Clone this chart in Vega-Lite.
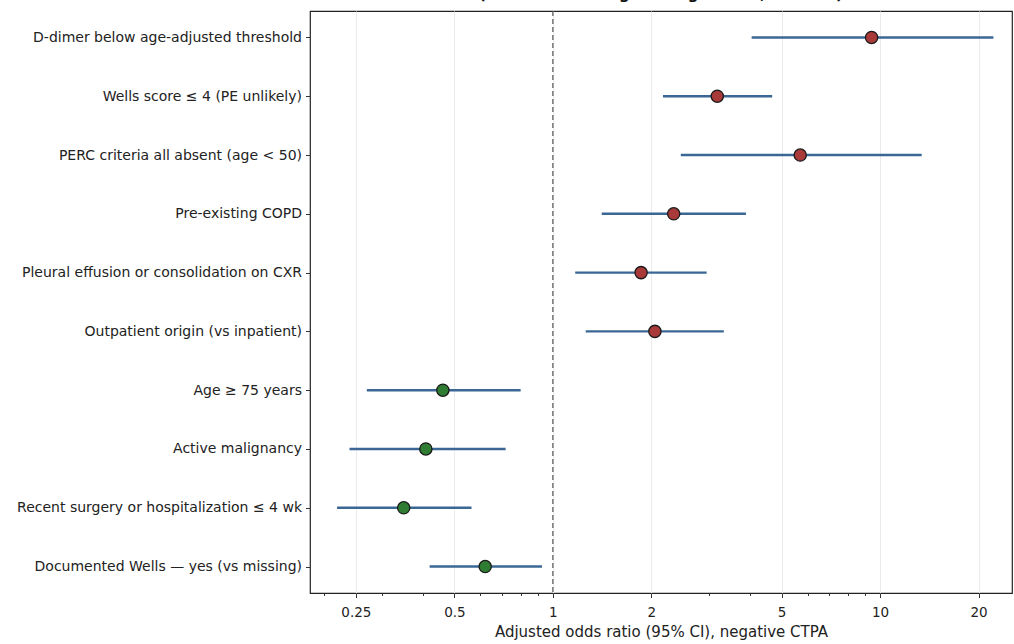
{
  "$schema": "https://vega.github.io/schema/vega-lite/v6.json",
  "autosize": "none",
  "padding": {"left": 310, "top": 11, "right": 2, "bottom": 51},
  "width": 702,
  "height": 582,
  "background": "white",
  "config": {
    "view": {"stroke": "#222222", "strokeWidth": 1.2},
    "font": "DejaVu Sans"
  },
  "title": {
    "text": ["Predictors of a negative CTPA", "(multivariable logistic regression, n = 343)"],
    "fontSize": 15,
    "fontWeight": "bold",
    "font": "DejaVu Sans",
    "color": "#111111",
    "anchor": "middle",
    "offset": 2,
    "dy": 9,
    "baseline": "bottom"
  },
  "data": {
    "values": [
      {"label": "D-dimer below age-adjusted threshold", "or": 9.42, "low": 4.05, "high": 22.2, "dir": "pos"},
      {"label": "Wells score ≤ 4 (PE unlikely)", "or": 3.18, "low": 2.17, "high": 4.68, "dir": "pos"},
      {"label": "PERC criteria all absent (age < 50)", "or": 5.70, "low": 2.46, "high": 13.4, "dir": "pos"},
      {"label": "Pre-existing COPD", "or": 2.34, "low": 1.41, "high": 3.89, "dir": "pos"},
      {"label": "Pleural effusion or consolidation on CXR", "or": 1.86, "low": 1.17, "high": 2.95, "dir": "pos"},
      {"label": "Outpatient origin (vs inpatient)", "or": 2.05, "low": 1.26, "high": 3.33, "dir": "pos"},
      {"label": "Age ≥ 75 years", "or": 0.461, "low": 0.270, "high": 0.797, "dir": "neg"},
      {"label": "Active malignancy", "or": 0.409, "low": 0.239, "high": 0.717, "dir": "neg"},
      {"label": "Recent surgery or hospitalization ≤ 4 wk", "or": 0.350, "low": 0.219, "high": 0.564, "dir": "neg"},
      {"label": "Documented Wells — yes (vs missing)", "or": 0.621, "low": 0.420, "high": 0.926, "dir": "neg"}
    ]
  },
  "layer": [
    {
      "data": {"values": [{"ref": 1}]},
      "mark": {"type": "rule", "strokeDash": [5, 3], "color": "#444444", "strokeWidth": 1.1},
      "encoding": {
        "x": {"field": "ref", "type": "quantitative"}
      }
    },
    {
      "mark": {"type": "rule", "color": "#3a6794", "strokeWidth": 2.4},
      "encoding": {
        "x": {
          "field": "low", "type": "quantitative",
          "scale": {"type": "log", "domain": [0.181, 25.3], "nice": false, "zero": false},
          "axis": {
            "orient": "bottom",
            "values": [0.2, 0.25, 0.3, 0.4, 0.5, 0.6, 0.7, 0.8, 0.9, 1, 2, 3, 4, 5, 6, 7, 8, 9, 10, 20],
            "labelExpr": "indexof([0.25,0.5,1,2,5,10,20], datum.value) >= 0 ? format(datum.value, '~g') : ''",
            "labelOverlap": false,
            "grid": true, "gridColor": "#ebebeb", "gridWidth": 1,
            "gridOpacity": {"expr": "indexof([0.25,0.5,1,2,5,10,20], datum.value) >= 0 ? 1 : 0"},
            "domain": false,
            "tickSize": {"expr": "indexof([0.25,0.5,1,2,5,10,20], datum.value) >= 0 ? 4.5 : 2.5"},
            "tickColor": "#333333", "tickWidth": 1,
            "labelFontSize": 13.5, "labelColor": "#222222", "labelPadding": 8,
            "title": "Adjusted odds ratio (95% CI), negative CTPA",
            "titleFontSize": 15, "titleFontWeight": "normal", "titleColor": "#222222",
            "titlePadding": 5
          }
        },
        "x2": {"field": "high"},
        "y": {
          "field": "label", "type": "nominal", "sort": null,
          "scale": {"type": "point", "padding": 0.45},
          "axis": {
            "title": null, "grid": false, "domain": false,
            "tickSize": 4.5, "tickColor": "#333333",
            "labelFontSize": 14, "labelColor": "#222222", "labelPadding": 4,
            "labelLimit": 400
          }
        }
      }
    },
    {
      "mark": {"type": "point", "filled": true, "size": 150, "stroke": "#1a1a1a", "strokeWidth": 1.3, "opacity": 1},
      "encoding": {
        "x": {"field": "or", "type": "quantitative"},
        "y": {"field": "label", "type": "nominal", "sort": null},
        "color": {
          "field": "dir", "type": "nominal",
          "scale": {"domain": ["pos", "neg"], "range": ["#a83a3a", "#2e7d32"]},
          "legend": null
        }
      }
    }
  ]
}
